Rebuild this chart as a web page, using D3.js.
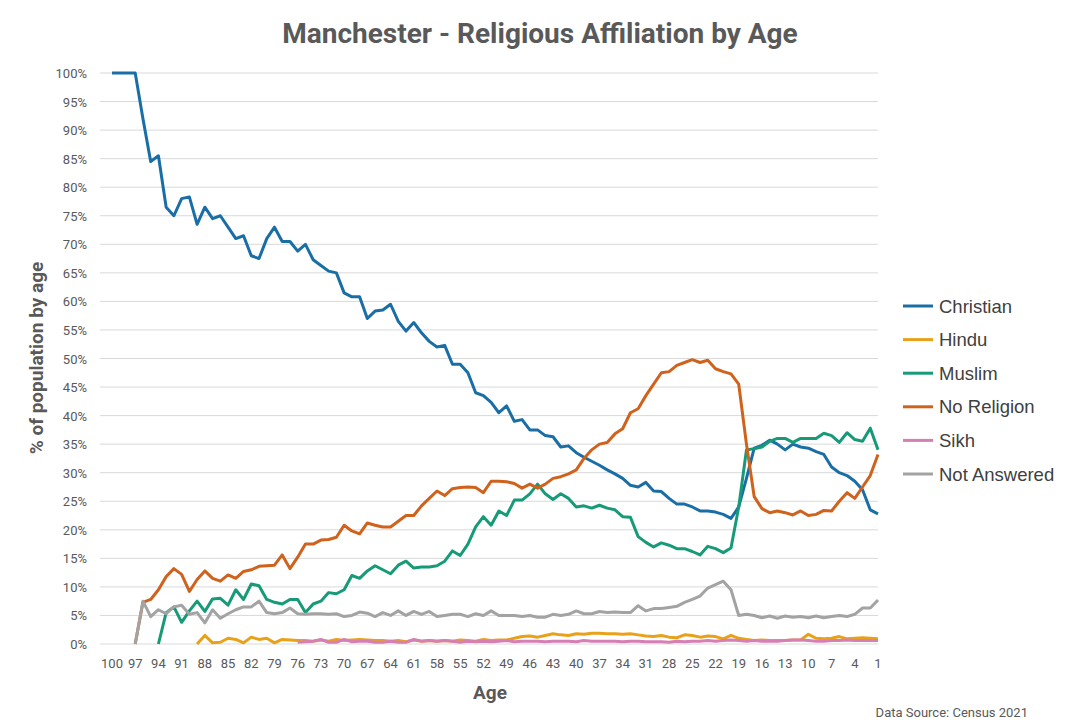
<!DOCTYPE html>
<html><head><meta charset="utf-8">
<script src="https://cdn.jsdelivr.net/npm/d3@7"></script>
<style>body{margin:0;background:#fff;font-family:Roboto,"Open Sans",sans-serif}</style>
</head><body><div id="chart"></div>
<script>
// ages 100 down to 1
const ages = d3.range(100, 0, -1);
const xTicks = d3.range(100, 0, -3);

const christian = [100,100,100,100,92,84.5,85.5,76.5,75,78,78.3,73.5,76.5,74.5,75,73,71,71.5,68,67.5,
71,73,70.5,70.5,68.8,70,67.3,66.3,65.3,65,61.5,60.8,60.8,57,58.3,58.5,59.5,56.5,54.8,56.3,
54.5,53,52,52.3,49,49,47.5,44,43.5,42.3,40.5,41.7,39,39.3,37.5,37.5,36.5,36.3,34.5,34.7,
33.5,32.7,32,31.3,30.5,29.8,29,27.8,27.5,28.3,26.8,26.7,25.5,24.5,24.5,24,23.3,23.3,23.1,22.7,
22,24,29,34.3,34.8,35.7,35,34,35,34.5,34.3,33.7,33.2,31,30,29.5,28.5,27,23.5,22.8];
const noReligion = [null,null,null,0,7.3,7.8,9.5,11.8,13.2,12.2,9.2,11.3,12.8,11.5,11,12.1,11.5,12.7,13,13.6,
13.7,13.8,15.6,13.2,15.2,17.5,17.5,18.2,18.3,18.7,20.8,19.8,19.3,21.2,20.8,20.5,20.5,21.5,22.5,22.5,
24.2,25.5,26.8,26,27.2,27.4,27.5,27.4,26.5,28.5,28.5,28.4,28.1,27.3,28,27.3,28,29,29.3,29.8,
30.5,32.5,34,35,35.3,36.8,37.7,40.5,41.2,43.5,45.5,47.5,47.7,48.8,49.3,49.8,49.3,49.7,48.2,47.7,
47.3,45.5,35,25.8,23.7,23,23.3,23,22.6,23.3,22.5,22.7,23.4,23.3,25,26.5,25.5,27.5,29.5,33.2];
const muslim = [null,null,null,null,null,null,0,5.5,6.5,3.8,5.8,7.5,5.7,7.9,8,6.8,9.5,7.8,10.5,10.2,
7.8,7.3,7,7.8,7.8,5.5,7,7.5,9,8.8,9.5,12,11.5,12.8,13.7,13,12.3,13.8,14.5,13.3,
13.5,13.5,13.7,14.5,16.3,15.5,17.5,20.5,22.3,20.8,23.3,22.5,25.2,25.2,26.3,28,26.3,25.3,26.3,25.5,
24,24.2,23.8,24.3,23.8,23.5,22.3,22.2,18.8,17.8,17,17.7,17.3,16.7,16.7,16.2,15.6,17.1,16.7,16,
16.8,24,34,34.2,34.5,35.5,36,36,35.3,36,36,36,36.9,36.5,35.3,37,35.8,35.5,37.8,34];
const notAnswered = [null,null,null,0,7.5,4.8,6,5.3,6.5,6.8,5.2,5.5,3.7,6,4.5,5.3,6,6.5,6.5,7.5,
5.5,5.3,5.5,6.3,5.3,5.2,5.3,5.3,5.2,5.3,4.8,5,5.6,5.4,4.8,5.5,5,5.8,5,5.7,
5.2,5.7,4.8,5,5.2,5.2,4.8,5.3,5,5.8,5,5,5,4.8,5,4.7,4.7,5.2,5,5.2,
5.8,5.3,5.3,5.7,5.5,5.6,5.5,5.5,6.7,5.8,6.2,6.2,6.4,6.6,7.3,7.8,8.4,9.8,10.4,11,
9.5,5,5.2,5,4.6,4.9,4.5,4.9,4.7,4.8,4.6,4.9,4.6,4.8,5,4.8,5.2,6.3,6.3,7.7];
const hindu = [null,null,null,null,null,null,null,null,null,null,null,0,1.5,0.2,0.3,1,0.8,0.2,1.2,0.8,
1,0.2,0.8,0.7,0.6,0.6,0.5,0.7,0.5,0.8,0.6,0.7,0.8,0.7,0.6,0.6,0.5,0.6,0.4,0.7,
0.5,0.6,0.5,0.6,0.5,0.7,0.6,0.5,0.8,0.6,0.7,0.7,1,1.3,1.4,1.2,1.5,1.8,1.6,1.5,
1.8,1.7,1.9,1.9,1.8,1.8,1.7,1.8,1.6,1.4,1.3,1.5,1.2,1.1,1.6,1.5,1.2,1.4,1.3,0.9,
1.5,1,0.8,0.6,0.7,0.6,0.6,0.6,0.7,0.7,1.7,1,0.9,1,1.3,0.9,1,1.1,1,0.9];
const sikh = [null,null,null,null,null,null,null,null,null,null,null,null,null,null,null,null,null,null,null,null,
null,null,null,null,0.3,0.4,0.5,0.8,0.3,0.3,0.8,0.4,0.5,0.5,0.3,0.3,0.5,0.3,0.3,0.8,
0.5,0.6,0.5,0.6,0.5,0.3,0.5,0.4,0.5,0.4,0.5,0.6,0.4,0.5,0.5,0.5,0.4,0.5,0.5,0.5,
0.4,0.6,0.5,0.5,0.5,0.5,0.4,0.5,0.5,0.4,0.4,0.4,0.3,0.5,0.4,0.5,0.5,0.6,0.5,0.6,
0.7,0.6,0.5,0.6,0.5,0.5,0.5,0.6,0.7,0.7,0.6,0.5,0.5,0.6,0.6,0.7,0.6,0.6,0.6,0.6];

const series = [
  {name: "Christian", values: christian, color: "#1a6ea6"},
  {name: "Hindu", values: hindu, color: "#e8a21a"},
  {name: "Muslim", values: muslim, color: "#169a78"},
  {name: "No Religion", values: noReligion, color: "#cf621c"},
  {name: "Sikh", values: sikh, color: "#d57fb5"},
  {name: "Not Answered", values: notAnswered, color: "#a3a3a3"}
];

const W = 1080, H = 726;
const svg = d3.select("#chart").append("svg").attr("width", W).attr("height", H);

const x = d3.scaleLinear().domain([100, 1]).range([112, 878]);
const y = d3.scaleLinear().domain([0, 100]).range([644, 73]);

// gridlines + y labels
svg.append("g").selectAll("line").data(d3.range(0, 101, 5)).enter().append("line")
  .attr("x1", 100).attr("x2", 878).attr("y1", d => y(d)).attr("y2", d => y(d))
  .attr("stroke", "#d9d9d9").attr("stroke-width", 1);
svg.append("g").selectAll("text").data(d3.range(0, 101, 5)).enter().append("text")
  .attr("x", 87).attr("y", d => y(d) + 5).attr("text-anchor", "end")
  .attr("font-size", 13).attr("fill", "#595959").text(d => d + "%");

svg.append("g").selectAll("text").data(xTicks).enter().append("text")
  .attr("x", d => x(d)).attr("y", 668).attr("text-anchor", "middle")
  .attr("font-size", 13).attr("fill", "#595959").text(d => d);

const line = d3.line().defined(d => d[1] != null).x(d => x(d[0])).y(d => y(d[1]));
series.forEach(s => {
  svg.append("path").datum(ages.map((a, i) => [a, s.values[i]]))
    .attr("d", line).attr("fill", "none").attr("stroke", s.color)
    .attr("stroke-width", 3).attr("stroke-linejoin", "round");
});

svg.append("text").attr("x", 540).attr("y", 43).attr("text-anchor", "middle")
  .attr("font-size", 28).attr("font-weight", "bold").attr("fill", "#595959")
  .text("Manchester - Religious Affiliation by Age");
svg.append("text").attr("x", 490).attr("y", 699).attr("text-anchor", "middle")
  .attr("font-size", 19).attr("font-weight", "bold").attr("fill", "#595959").text("Age");
svg.append("text").attr("transform", "translate(43,358) rotate(-90)").attr("text-anchor", "middle")
  .attr("font-size", 19).attr("font-weight", "bold").attr("fill", "#595959").text("% of population by age");
svg.append("text").attr("x", 1028).attr("y", 717).attr("text-anchor", "end")
  .attr("font-size", 13).attr("fill", "#595959").text("Data Source: Census 2021");

const leg = svg.append("g").selectAll("g").data(series).enter().append("g")
  .attr("transform", (d, i) => `translate(903,${306 + i * 33.6})`);
leg.append("line").attr("x1", 0).attr("x2", 30).attr("stroke", d => d.color).attr("stroke-width", 3);
leg.append("text").attr("x", 36).attr("y", 6.5).attr("font-size", 18.5)
  .attr("font-family", "'Liberation Sans', Arial, sans-serif").attr("fill", "#404040").text(d => d.name);
</script></body></html>
